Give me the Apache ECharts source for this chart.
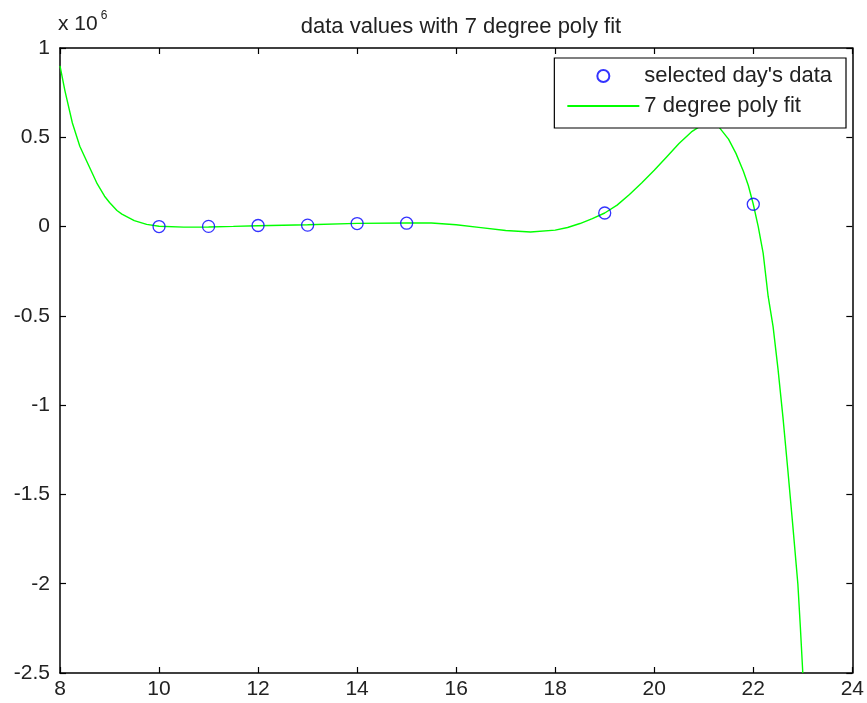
<!DOCTYPE html>
<html>
<head>
<meta charset="utf-8">
<script src="https://cdn.jsdelivr.net/npm/echarts@6/dist/echarts.min.js"></script>
<style>
  html, body { margin: 0; padding: 0; background: #fff; }
  #chart { width: 867px; height: 703px; }
</style>
</head>
<body>
<div id="chart"></div>
<script>
// 数据 (单位: x 10^6)
const dayX = [10, 11, 12, 13, 14, 15, 19, 22]
const dayY = [0.0, 0.001, 0.006, 0.008, 0.017, 0.019, 0.076, 0.125]

// 拟合曲线
const fitX = [8, 8.1, 8.25, 8.4, 8.5, 8.65, 8.75, 8.9, 9, 9.15, 9.25, 9.5, 9.75, 10, 10.5, 11, 11.5, 12, 13, 14, 15, 15.5, 16,
  16.5, 17, 17.5, 18, 18.25, 18.5, 18.75, 19, 19.25, 19.5, 19.75, 20, 20.25, 20.5, 20.75, 21, 21.15, 21.3, 21.5,
  21.65, 21.8, 21.9, 22, 22.1, 22.2, 22.3, 22.4, 22.5, 22.6, 22.7, 22.8, 22.9, 22.95, 23]
const fitY = [0.9, 0.76, 0.58, 0.45, 0.39, 0.3, 0.24, 0.17, 0.135, 0.09, 0.07, 0.033, 0.012, 0.002, -0.003, -0.002, 0.001, 0.005, 0.01, 0.018, 0.02, 0.02, 0.01,
  -0.006, -0.022, -0.03, -0.02, -0.005, 0.017, 0.045, 0.076, 0.12, 0.18, 0.245, 0.315, 0.39, 0.465, 0.53, 0.575, 0.585, 0.56, 0.49,
  0.41, 0.31, 0.23, 0.125, 0.0, -0.15, -0.39, -0.56, -0.8, -1.07, -1.37, -1.68, -2.0, -2.24, -2.5]

const xTicks = [8, 10, 12, 14, 16, 18, 20, 22, 24]
const yTicks = [-2.5, -2, -1.5, -1, -0.5, 0, 0.5, 1]

const fontFamily = 'Liberation Sans, Arial, sans-serif'
const black = '#000'
const textColor = '#222'

const frameAxis = (extra) => ({
  min: extra.min,
  max: extra.max,
  interval: extra.interval,
  position: extra.position,
  axisLine: { show: true, onZero: false, lineStyle: { color: black, width: 1.5 } },
  axisTick: { show: true, inside: true, length: 6, lineStyle: { color: black, width: 1.2 } },
  axisLabel: extra.label
    ? {
        show: true,
        color: textColor,
        fontSize: 21,
        fontFamily,
        margin: extra.margin,
        padding: extra.padding || 0,
        formatter: (v) => String(v)
      }
    : { show: false },
  splitLine: { show: false }
})

const chart = echarts.init(document.getElementById('chart'), null, { renderer: 'canvas' })

chart.setOption({
  backgroundColor: '#fff',
  animation: false,
  title: {
    text: 'data values with 7 degree poly fit',
    left: 456,
    textAlign: 'center',
    top: 11,
    textStyle: { color: textColor, fontSize: 22, fontWeight: 'normal', fontFamily }
  },
  grid: { left: 60, right: 13, top: 48, bottom: 30, containLabel: false },
  legend: {
    orient: 'vertical',
    right: 21,
    top: 58,
    itemWidth: 72,
    itemHeight: 12,
    itemGap: 8,
    padding: [7, 14, 11, 12],
    borderColor: black,
    borderWidth: 1.2,
    backgroundColor: '#fff',
    textStyle: { color: textColor, fontSize: 22, fontFamily },
    data: [
      { name: "selected day's data", icon: 'circle' },
      { name: '7 degree poly fit', itemStyle: { opacity: 0 } }
    ]
  },
  xAxis: [
    { type: 'value', ...frameAxis({ min: 8, max: 24, interval: 2, position: 'bottom', label: true, margin: 6 }) },
    { type: 'value', ...frameAxis({ min: 8, max: 24, interval: 2, position: 'top', label: false }) }
  ],
  yAxis: [
    {
      type: 'value',
      ...frameAxis({ min: -2.5, max: 1, interval: 0.5, position: 'left', label: true, margin: 10, padding: [0, 0, 8, 0] }),
      name: 'x 10{sup|6}',
      nameLocation: 'end',
      nameGap: 10,
      nameTextStyle: {
        align: 'left',
        color: textColor,
        fontSize: 21,
        fontFamily,
        padding: [0, 0, 0, -2],
        rich: { sup: { fontSize: 12, verticalAlign: 'top', padding: [0, 0, 16, 3], fontFamily, color: textColor } }
      }
    },
    { type: 'value', ...frameAxis({ min: -2.5, max: 1, interval: 0.5, position: 'right', label: false }) }
  ],
  series: [
    {
      name: "selected day's data",
      type: 'scatter',
      symbol: 'circle',
      symbolSize: 12,
      itemStyle: { color: 'rgba(0,0,0,0)', borderColor: '#0000ff', borderWidth: 1.3 },
      data: dayX.map((x, i) => [x, dayY[i]]),
      z: 3
    },
    {
      name: '7 degree poly fit',
      type: 'line',
      showSymbol: false,
      symbol: 'none',
      clip: true,
      lineStyle: { color: '#00ff00', width: 1.4 },
      itemStyle: { color: '#00ff00' },
      data: fitX.map((x, i) => [x, fitY[i]]),
      z: 2
    }
  ]
})
</script>
</body>
</html>
